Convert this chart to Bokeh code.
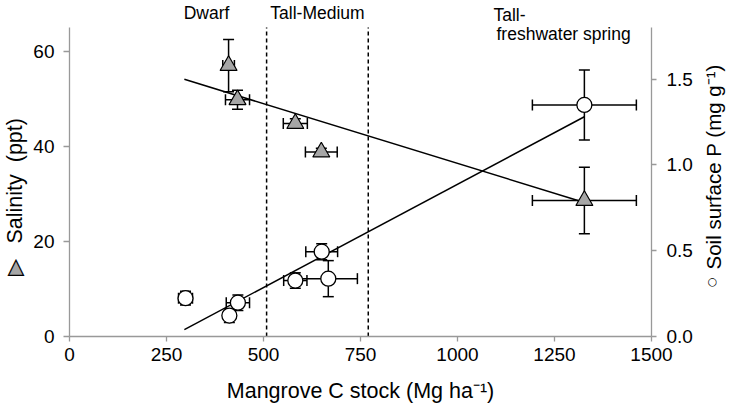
import numpy as np
from math import pi
from bokeh.plotting import figure
from bokeh.models import (Range1d, LinearAxis, FixedTicker, PrintfTickFormatter, Label)
from bokeh.embed import file_html
from bokeh.resources import INLINE

# ---------------- data ----------------
# Salinity (ppt) vs mangrove C stock (triangles)
sal_x = [410, 433, 582, 649, 1327]
sal_y = [57.0, 49.8, 44.8, 38.8, 28.6]
sal_xerr = [15, 31, 31, 41, 134]
sal_yerr = [5.5, 2.0, 1.0, 0.8, 7.0]

# Soil surface P (mg g-1) vs mangrove C stock (circles)
p_x = [299, 412, 434, 582, 650, 667, 1327]
p_y = [0.223, 0.122, 0.197, 0.326, 0.494, 0.337, 1.349]
p_xerr = [18, 10, 30, 30, 41, 75, 134]
p_yerr = [0.04, 0.04, 0.045, 0.045, 0.047, 0.105, 0.204]

# regression lines (end points)
trend_x = [296, 1327]
sal_fit = [54.1, 28.2]
p_fit = [0.04, 1.28]

# forest-type boundaries
bounds = [508, 770]

x_ticks = [0, 250, 500, 750, 1000, 1250, 1500]
sal_ticks = [0, 20, 40, 60]
p_ticks = [0.0, 0.5, 1.0, 1.5]

# axis extents
x_ext = (0, 1500)
sal_ext = (0, 65)
p_ext = (0, 1.8)

# ---------------- layout (pixels) ----------------
W, H = 732, 408
FL, FR, FT, FB = 69, 651, 27, 336   # where the axes sit on the canvas

sx = (x_ext[1] - x_ext[0]) / (FR - FL)
sy = (sal_ext[1] - sal_ext[0]) / (FB - FT)
sp = (p_ext[1] - p_ext[0]) / (FB - FT)
xr = Range1d(x_ext[0] - FL * sx, x_ext[1] + (W - FR) * sx)
yr = Range1d(sal_ext[0] - (H - FB) * sy, sal_ext[1] + FT * sy)
pr = Range1d(p_ext[0] - (H - FB) * sp, p_ext[1] + FT * sp)

FONT = "Liberation Sans"
AX = "#999999"

p = figure(width=W, height=H, x_range=xr, y_range=yr,
           output_backend="svg", toolbar_location=None,
           min_border_left=0, min_border_right=0, min_border_top=0, min_border_bottom=0)
p.title.visible = False
p.xgrid.visible = False
p.ygrid.visible = False
p.outline_line_color = None
p.background_fill_color = "white"
p.border_fill_color = "white"

p.extra_y_ranges = {"p": pr}
right = LinearAxis(y_range_name="p")
p.add_layout(right, "right")

def style(ax, ticks, ext, loc, out, standoff):
    ax.ticker = FixedTicker(ticks=ticks)
    ax.bounds = ext
    ax.fixed_location = loc
    ax.axis_line_color = AX
    ax.axis_line_width = 1.3
    ax.major_tick_line_color = AX
    ax.major_tick_line_width = 1.3
    ax.major_tick_out = out
    ax.major_tick_in = 0
    ax.minor_tick_line_color = None
    ax.major_label_text_font = FONT
    ax.major_label_text_font_size = "19px"
    ax.major_label_text_color = "black"
    ax.major_label_standoff = standoff

style(p.xaxis[0], x_ticks, x_ext, sal_ext[0], 5, 6)
style(p.yaxis[0], sal_ticks, sal_ext, x_ext[0], 6, 9)
style(right, p_ticks, p_ext, x_ext[1], 5, 10)
right.formatter = PrintfTickFormatter(format="%.1f")

# boundaries (dashed)
p.segment(x0=bounds, y0=[sal_ext[0]] * len(bounds), x1=bounds, y1=[sal_ext[1]] * len(bounds),
          line_color="black", line_width=1.5, line_dash="4 3")

# regression lines
p.line(trend_x, sal_fit, line_color="black", line_width=1.5)
p.line(trend_x, p_fit, line_color="black", line_width=1.5, y_range_name="p")

# error bars
def errbars(x, y, xe, ye, rng=None):
    x = np.array(x, float); y = np.array(y, float)
    xe = np.array(xe, float); ye = np.array(ye, float)
    kw = {} if rng is None else {"y_range_name": rng}
    p.segment(x0=x - xe, y0=y, x1=x + xe, y1=y, line_color="black", line_width=1.5, **kw)
    p.segment(x0=x, y0=y - ye, x1=x, y1=y + ye, line_color="black", line_width=1.5, **kw)
    p.scatter(x=np.concatenate([x - xe, x + xe]), y=np.concatenate([y, y]), marker="dash",
              angle=pi / 2, size=11, line_color="black", line_width=1.5, **kw)
    p.scatter(x=np.concatenate([x, x]), y=np.concatenate([y - ye, y + ye]), marker="dash",
              size=11, line_color="black", line_width=1.5, **kw)

errbars(sal_x, sal_y, sal_xerr, sal_yerr)
errbars(p_x, p_y, p_xerr, p_yerr, "p")

p.scatter(sal_x, sal_y, marker="triangle", size=17, fill_color="#a6a6a6",
          line_color="black", line_width=1.2)
p.scatter(p_x, p_y, marker="circle", size=15, fill_color="white",
          line_color="black", line_width=1.3, y_range_name="p")

# text labels (positions in canvas pixels, converted to data)
def lab(text, px, py, size, align="left", baseline="alphabetic", angle=0, color="black", font=FONT):
    x = x_ext[0] + (px - FL) * sx
    y = sal_ext[0] + (FB - py) * sy
    p.add_layout(Label(x=x, y=y, text=text, text_font=font, text_font_size=size,
                       text_align=align, text_baseline=baseline, angle=angle,
                       text_color=color))

lab("Dwarf", 206, 12, "17.5px", align="center")
lab("Tall-Medium", 317, 12, "17.5px", align="center")
lab("Tall-", 493, 14, "17.5px")
lab("freshwater spring", 496, 33, "17.5px")

lab("Mangrove C stock (Mg ha\u207b\u00b9)", 360, 390, "21.5px", align="center")
lab("Salinity\u00a0\u00a0(ppt)", 14, 243, "21.5px", baseline="middle", angle=pi / 2)
lab("\u25b2", 15.5, 264.5, "22px", align="center", baseline="middle", color="#a6a6a6", font="DejaVu Sans")
lab("\u25b3", 15.5, 264.5, "22px", align="center", baseline="middle", color="black", font="DejaVu Sans")
lab("Soil surface P (mg g\u207b\u00b9)", 713, 269, "20.5px", baseline="middle", angle=pi / 2)
lab("\u25cb", 712, 281, "11px", align="center", baseline="middle", font="DejaVu Sans")

open("out.html", "w").write(file_html(p, INLINE))
